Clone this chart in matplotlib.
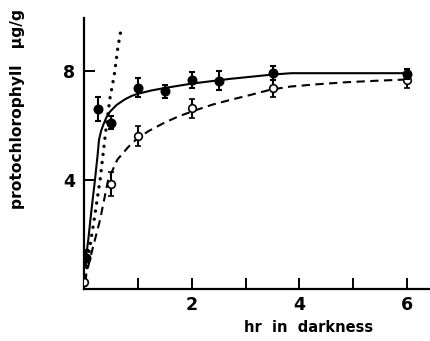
import matplotlib
matplotlib.use('Agg')
import matplotlib.pyplot as plt
import numpy as np

# measured points, filled circles (with error)
hr_filled = [0.03, 0.25, 0.5, 1.0, 1.5, 2.0, 2.5, 3.5, 6.0]
pchl_filled = [1.15, 6.6, 6.1, 7.38, 7.24, 7.67, 7.63, 7.91, 7.88]
err_filled = [0.3, 0.45, 0.25, 0.35, 0.22, 0.3, 0.35, 0.25, 0.2]

# measured points, open circles
hr_open = [0.0, 0.5, 1.0, 2.0, 3.5, 6.0]
pchl_open = [0.28, 3.86, 5.61, 6.63, 7.35, 7.67]
err_open = [0.15, 0.45, 0.35, 0.35, 0.3, 0.3]

# hand-drawn curves through the data
solid_x = [0.0, 0.04, 0.07, 0.13, 0.195, 0.245, 0.27, 0.31, 0.35, 0.41, 0.475,
           0.6, 0.75, 0.88, 1.0, 1.25, 1.5, 2.0, 2.7, 3.2, 3.5, 3.85, 6.0]
solid_y = [1.1, 1.33, 1.8, 2.9, 4.0, 4.92, 5.47, 5.8, 6.02, 6.3, 6.5,
           6.75, 6.95, 7.08, 7.16, 7.28, 7.37, 7.53, 7.7, 7.8, 7.86, 7.91, 7.91]

dashed_x = [0.0, 0.145, 0.29, 0.44, 0.61, 0.82, 0.97, 1.2, 1.47, 1.75, 2.09,
            2.4, 2.71, 3.1, 3.45, 3.83, 4.3, 4.88, 5.4, 5.88, 6.0]
dashed_y = [0.28, 1.44, 2.54, 4.0, 4.74, 5.22, 5.5, 5.8, 6.08, 6.33, 6.57,
            6.77, 6.93, 7.12, 7.3, 7.42, 7.5, 7.58, 7.63, 7.67, 7.68]

dotted_x = [0.0, 0.10, 0.18, 0.29, 0.41, 0.475, 0.555, 0.62, 0.69]
dotted_y = [0.2, 1.56, 2.54, 4.0, 6.02, 7.0, 7.85, 8.83, 9.62]

font = {'family': 'DejaVu Sans', 'weight': 'bold', 'size': 10.5}
tickfont = {'family': 'DejaVu Sans', 'weight': 'bold', 'size': 12.5}

fig = plt.figure(figsize=(4.31, 3.41), dpi=100)
ax = fig.add_axes([0.196, 0.1516, 0.804, 0.7956])

ax.plot(solid_x, solid_y, color='black', lw=1.5, solid_capstyle='round')
ax.plot(dashed_x, dashed_y, color='black', lw=1.5, linestyle=(0, (4, 2.6)))
ax.plot(dotted_x, dotted_y, color='black', lw=2.4, linestyle=(0, (0.05, 2.4)),
        dash_capstyle='round')

ax.errorbar(hr_open, pchl_open, yerr=err_open, fmt='o', ms=5.5, mfc='white',
            mec='black', mew=1.2, ecolor='black', elinewidth=1.5, capsize=2.4,
            capthick=1.5, zorder=3)
ax.errorbar(hr_filled, pchl_filled, yerr=err_filled, fmt='o', ms=6.2, mfc='black',
            mec='black', ecolor='black', elinewidth=1.5, capsize=2.4,
            capthick=1.5, zorder=4)

ax.set_xlim(0, 6.45)
ax.set_ylim(0, 9.93)
for side in ['top', 'right']:
    ax.spines[side].set_visible(False)
for side in ['left', 'bottom']:
    ax.spines[side].set_linewidth(1.6)

ax.set_xticks([1, 2, 3, 4, 5, 6])
ax.set_xticklabels(['', '2', '', '4', '', '6'], fontdict=tickfont)
ax.set_yticks([4, 8])
ax.set_yticklabels(['4', '8'], fontdict=tickfont)
ax.tick_params(axis='both', direction='in', length=8, width=1.4, pad=5)
ax.tick_params(axis='y', pad=7)

fig.text(0.715, 0.04, 'hr  in  darkness', ha='center', va='center', **font)
fig.text(0.04, 0.68, 'protochlorophyll   \u03bcg/g', ha='center', va='center',
         rotation=90, family='DejaVu Sans', weight='bold', size=11.2)

plt.savefig('out.png', dpi=100)
